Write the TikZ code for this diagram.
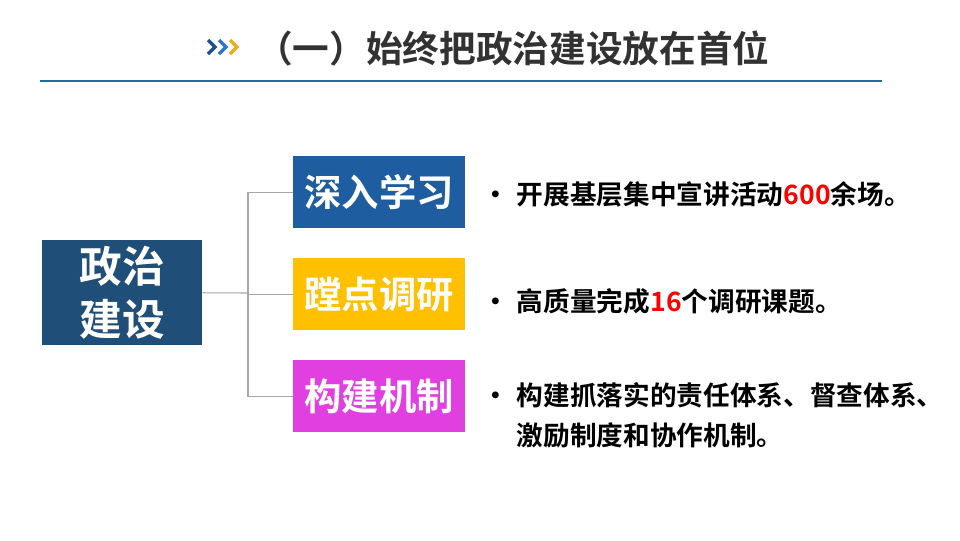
\documentclass[tikz,border=0pt]{standalone}
\usepackage{fontspec}
\newfontfamily\cjk{Noto Sans CJK SC}[BoldFont={* Bold}]
\begin{document}
\begin{tikzpicture}[x=0.75pt,y=-0.75pt,
  box/.style={anchor=north west,minimum width=172*0.75pt,minimum height=72*0.75pt,inner sep=0pt,text=white,font=\cjk\bfseries\fontsize{28}{32}\selectfont},
  conn/.style={draw=gray!70,line width=0.8pt},
  item/.style={anchor=west,font=\cjk\bfseries\fontsize{20}{30}\selectfont,align=left,inner sep=0pt},
  chev/.style={line width=2.6pt}]
\useasboundingbox (0,0) rectangle (960,540);
\fill[white] (0,0) rectangle (960,540);
% title
\draw[chev,color={rgb,255:red,31;green,78;blue,140}] (208,40)--(215,47)--(208,54);
\draw[chev,color={rgb,255:red,46;green,117;blue,210}] (219,40)--(226,47)--(219,54);
\draw[chev,color={rgb,255:red,240;green,170;blue,30}] (230,40)--(237,47)--(230,54);
\node[anchor=west,inner sep=0pt,font=\cjk\bfseries\fontsize{27.5}{32}\selectfont,text={rgb,255:red,50;green,50;blue,50}] (title) at (256,48) {（一）始终把政治建设放在首位};
\draw[color={rgb,255:red,30;green,110;blue,150},line width=0.8pt] (40,81)--(882,81);
% main box
\node[anchor=north west,minimum width=160*0.75pt,minimum height=105*0.75pt,inner sep=0pt,fill={rgb,255:red,31;green,78;blue,121},text=white,align=center,font=\cjk\bfseries\fontsize{32}{40}\selectfont] (m) at (42,240) {政治\\建设};
\node[box,fill={rgb,255:red,30;green,94;blue,160}] (a) at (293,156) {深入学习};
\node[box,fill={rgb,255:red,255;green,192;blue,0}] (b) at (293,258) {蹚点调研};
\node[box,fill={rgb,255:red,224;green,64;blue,224}] (c) at (293,360) {构建机制};
\coordinate (j) at (248,293);
\draw[conn] (m.east)--(j);
\draw[conn] (a.west)-|(j);
\draw[conn] (c.west)-|(j);
\draw[conn] (b.west)--(b.west-|j);
\node[item] (ta) at (482,194) {•\hspace{0.3em}开展基层集中宣讲活动\textcolor{red}{600}余场。};
\node[item] (tb) at (482,301) {•\hspace{0.3em}高质量完成\textcolor{red}{16}个调研课题。};
\node[item,anchor=north west] (tc) at (482,382) {•\hspace{0.3em}构建抓落实的责任体系、督查体系、\\\hphantom{•\hspace{0.3em}}激励制度和协作机制。};
\end{tikzpicture}
\end{document}
